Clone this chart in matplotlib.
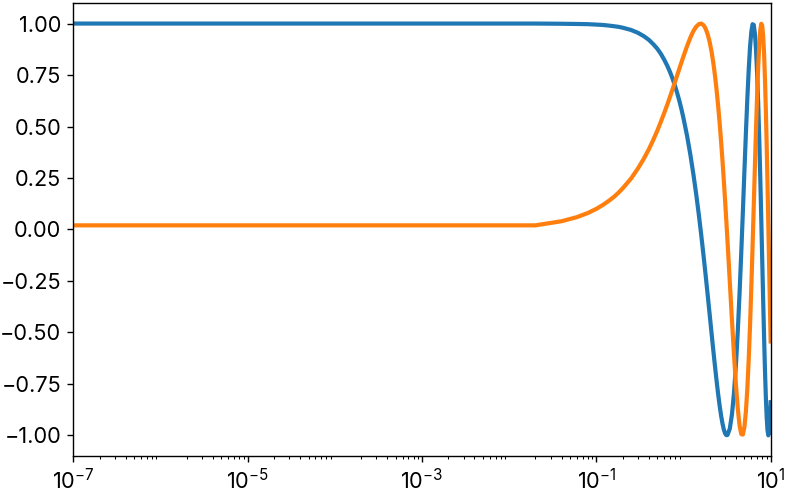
import matplotlib

matplotlib.use('Agg')
import matplotlib.pyplot as plt
from matplotlib import ticker

# values
x = [1e-7, 0.02, 0.04, 0.06, 0.08, 0.10, 0.12, 0.14, 0.16, 0.18, 0.20, 0.25,
     0.30, 0.35, 0.40, 0.45, 0.50, 0.55, 0.60, 0.65, 0.70, 0.75, 0.80, 0.85,
     0.90, 0.95, 1.0, 1.1, 1.2, 1.3, 1.4, 1.5, 1.6, 1.7, 1.8, 1.9, 2.0, 2.1,
     2.2, 2.3, 2.4, 2.5, 2.6, 2.7, 2.8, 2.9, 3.0, 3.1, 3.2, 3.4, 3.6, 3.8,
     4.0, 4.2, 4.4, 4.6, 4.8, 5.0, 5.2, 5.4, 5.6, 5.8, 6.0, 6.2, 6.4, 6.6,
     6.8, 7.0, 7.2, 7.4, 7.6, 7.8, 8.0, 8.2, 8.4, 8.6, 8.8, 9.0, 9.2, 9.4,
     9.6, 9.8, 10.0]
blue = [1.000, 1.000, 0.999, 0.998, 0.997, 0.995, 0.993, 0.990, 0.987, 0.984, 0.980, 0.969,
        0.955, 0.939, 0.921, 0.900, 0.878, 0.853, 0.825, 0.796, 0.765, 0.732, 0.697, 0.660,
        0.622, 0.582, 0.540, 0.454, 0.362, 0.267, 0.170, 0.071, -0.029, -0.129, -0.227, -0.323, -0.416, -0.505,
        -0.589, -0.666, -0.737, -0.801, -0.857, -0.904, -0.942, -0.971, -0.990, -0.999, -0.998, -0.967, -0.897, -0.791,
        -0.654, -0.490, -0.307, -0.112, 0.087, 0.284, 0.469, 0.635, 0.776, 0.886, 0.960, 0.997, 0.993, 0.950,
        0.869, 0.754, 0.608, 0.439, 0.251, 0.054, -0.146, -0.339, -0.519, -0.680, -0.811, -0.911, -0.975, -1.000,
        -0.984, -0.930, -0.839]
orange = [0.020, 0.020, 0.040, 0.060, 0.080, 0.100, 0.120, 0.140, 0.159, 0.179, 0.199, 0.247,
          0.296, 0.343, 0.389, 0.435, 0.479, 0.523, 0.565, 0.605, 0.644, 0.682, 0.717, 0.751,
          0.783, 0.813, 0.841, 0.891, 0.932, 0.964, 0.985, 0.997, 1.000, 0.992, 0.974, 0.946, 0.909, 0.863,
          0.808, 0.746, 0.675, 0.598, 0.516, 0.427, 0.335, 0.239, 0.141, 0.042, -0.058, -0.256, -0.443, -0.612,
          -0.757, -0.872, -0.952, -0.994, -0.996, -0.959, -0.883, -0.773, -0.631, -0.465, -0.279, -0.083, 0.117, 0.312,
          0.494, 0.657, 0.794, 0.899, 0.968, 0.999, 0.989, 0.941, 0.855, 0.733, 0.585, 0.412, 0.223, 0.025,
          -0.174, -0.367, -0.544]
xticks = [1e-7, 1e-5, 1e-3, 1e-1, 1e1]
yticks = [-1.0, -0.75, -0.5, -0.25, 0.0, 0.25, 0.5, 0.75, 1.0]

plt.rcParams['font.family'] = ['Inter', 'DejaVu Sans']
plt.rcParams['font.size'] = 12.5

fig, ax = plt.subplots(figsize=(6.304, 3.952), dpi=125)
fig.subplots_adjust(left=0.093, right=0.978, top=0.994, bottom=0.077)

ax.plot(x, blue, color='#1f77b4', lw=2.4)
ax.plot(x, orange, color='#ff7f0e', lw=2.4)
ax.set_xscale('log')
ax.set_xlim(1e-7, 10)
ax.set_ylim(-1.1, 1.1)
ax.set_xticks(xticks)
ax.xaxis.set_minor_locator(ticker.LogLocator(base=10, subs=range(2, 10), numticks=20))
ax.xaxis.set_minor_formatter(ticker.NullFormatter())
ax.set_yticks(yticks)

fig.savefig('out.png')
